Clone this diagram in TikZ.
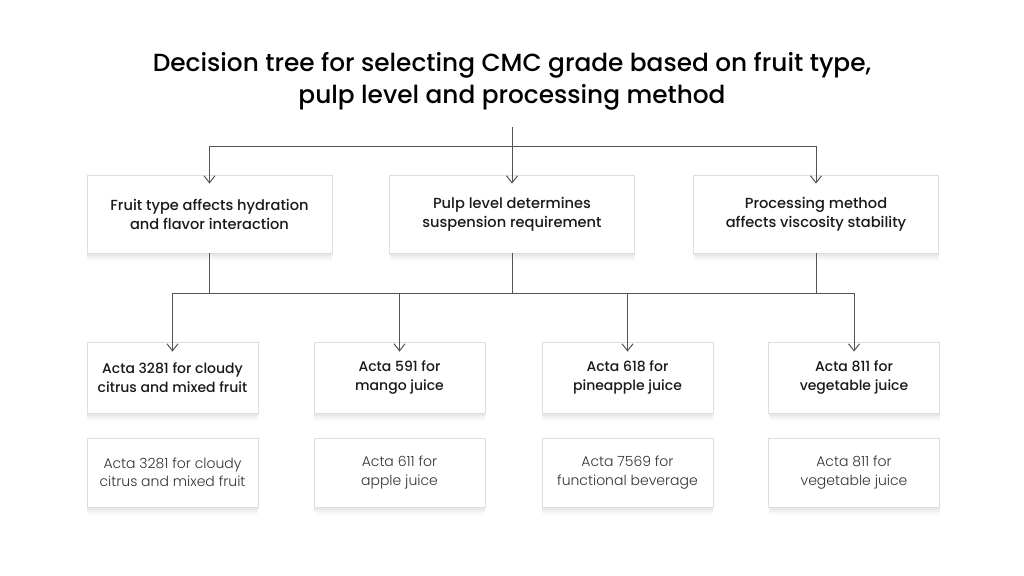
\documentclass[tikz,border=0pt]{standalone}
\usepackage{fontspec}
\setmainfont{Poppins}[BoldFont={Poppins Medium}]
\newfontfamily\lightfont{Poppins Light}
\usetikzlibrary{arrows.meta,shadows}
\definecolor{linec}{HTML}{555555}
\definecolor{boxline}{HTML}{DEDEDE}
\definecolor{txt}{HTML}{1A1A1A}
\definecolor{txtlight}{HTML}{333333}
\tikzset{
  softshadow/.style={
    general shadow={fill=black, opacity=0.025, shadow xshift=0pt, shadow yshift=-8pt, shadow scale=1.0},
    general shadow={fill=black, opacity=0.03, shadow xshift=0pt, shadow yshift=-5pt},
    general shadow={fill=black, opacity=0.035, shadow xshift=0pt, shadow yshift=-2.5pt}},
  cbox/.style={draw=boxline, line width=0.8pt, fill=white, align=center, inner sep=0pt, softshadow},
  topbox/.style={cbox, minimum width=245pt, minimum height=78pt, font=\fontsize{14.6}{19}\selectfont\bfseries, text=txt},
  gradebox/.style={cbox, minimum width=171pt, minimum height=71pt, font=\fontsize{14}{18.5}\selectfont\bfseries, text=txt},
  altbox/.style={cbox, minimum width=171pt, minimum height=69pt, font=\fontsize{14}{18.5}\selectfont\lightfont, text=txtlight},
  conn/.style={draw=linec, line width=1pt},
  arr/.style={conn, -{Straight Barb[length=7pt,width=11pt,line width=1pt]}},
}
\begin{document}
\begin{tikzpicture}[x=1pt,y=-1pt]
\useasboundingbox[fill=white] (0,0) rectangle (1024,575);
\node[font=\fontsize{24.8}{32}\selectfont\bfseries, align=center, text=black] (title) at (512,81)
  {Decision tree for selecting CMC grade based on fruit type,\\pulp level and processing method};

\node[topbox] (t1) at (209.5,214) {Fruit type affects hydration\\and flavor interaction};
\node[topbox] (t2) at (512,214) {Pulp level determines\\suspension requirement};
\node[topbox] (t3) at (816,214) {Processing method\\affects viscosity stability};

\node[gradebox] (g1) at (172.5,377.5) {Acta 3281 for cloudy\\citrus and mixed fruit};
\node[gradebox] (g2) at (399.5,377.5) {Acta 591 for\\mango juice};
\node[gradebox] (g3) at (627.5,377.5) {Acta 618 for\\pineapple juice};
\node[gradebox] (g4) at (854,377.5) {Acta 811 for\\vegetable juice};

\node[altbox] (a1) at (172.5,472.5) {Acta 3281 for cloudy\\citrus and mixed fruit};
\node[altbox] (a2) at (399.5,472.5) {Acta 611 for\\apple juice};
\node[altbox] (a3) at (627.5,472.5) {Acta 7569 for\\functional beverage};
\node[altbox] (a4) at (854,472.5) {Acta 811 for\\vegetable juice};

\coordinate (root) at (512,127);
\coordinate (hub) at (512,146);
\coordinate (hubb) at (512,293);

\draw[conn] (root) -- (hub);
\draw[conn] (t1.north |- hub) -- (t3.north |- hub);
\draw[arr] (t1.north |- hub) -- ([yshift=-9pt]t1.north);
\draw[arr] (hub) -- ([yshift=-9pt]t2.north);
\draw[arr] (t3.north |- hub) -- ([yshift=-9pt]t3.north);

\draw[conn] (t1.south) -- (t1.south |- hubb);
\draw[conn] (t2.south) -- (t2.south |- hubb);
\draw[conn] (t3.south) -- (t3.south |- hubb);
\draw[conn] (g1.north |- hubb) -- (g4.north |- hubb);
\draw[arr] (g1.north |- hubb) -- ([yshift=-10pt]g1.north);
\draw[arr] (g2.north |- hubb) -- ([yshift=-10pt]g2.north);
\draw[arr] (g3.north |- hubb) -- ([yshift=-10pt]g3.north);
\draw[arr] (g4.north |- hubb) -- ([yshift=-10pt]g4.north);
\end{tikzpicture}
\end{document}
